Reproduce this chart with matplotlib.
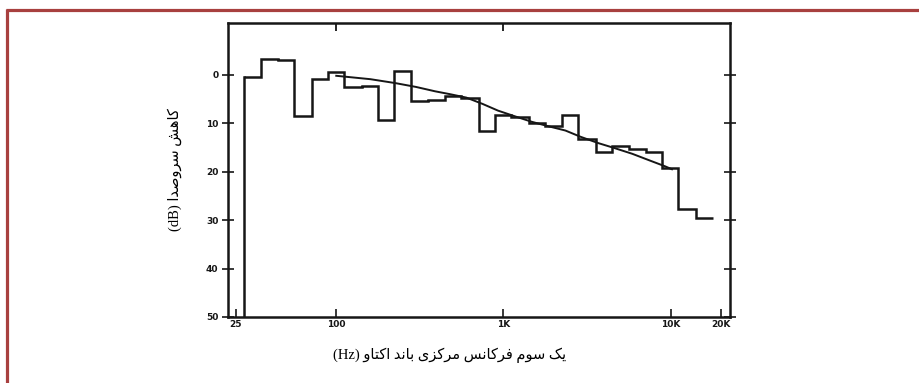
import matplotlib
matplotlib.use('Agg')
import matplotlib.pyplot as plt
from matplotlib.lines import Line2D
from matplotlib.ticker import NullLocator, FixedLocator, FixedFormatter

# Mittenfrequenzen der Terzbänder (Hz) und gemessene Pegel (dB)
band_centres = [31.5, 40, 50, 63, 80, 100, 125, 160, 200, 250, 315, 400, 500, 630,
                800, 1000, 1250, 1600, 2000, 2500, 3150, 4000, 5000, 6300, 8000,
                10000, 12500, 16000]
band_levels = [0.35, -3.3, -3.1, 8.4, 0.8, -0.5, 2.6, 2.4, 9.3, -0.7, 5.4, 5.1, 4.3, 4.8,
               11.5, 8.2, 8.7, 9.9, 10.6, 8.2, 13.2, 16.0, 14.6, 15.3, 16.0,
               19.2, 27.8, 29.5]

# glatte Kurve
curve_freq = [100, 160, 225, 300, 390, 480, 600, 750, 930, 1180, 1480, 1850, 2350,
              2900, 3700, 4600, 5900, 7400, 9300, 10200]
curve_db = [0.2, 0.9, 1.7, 2.5, 3.4, 4.0, 4.7, 6.0, 7.4, 8.6, 9.7, 10.6, 11.5,
            12.8, 14.1, 15.1, 16.3, 17.6, 18.9, 19.5]

x_ticks = [25, 100, 1000, 10000, 20000]
x_labels = ['25', '100', '1K', '10K', '20K']
y_ticks = [0, 10, 20, 30, 40, 50]
y_labels = ['0', '10', '20', '30', '40', '50']

xlabel_fa = 'یک سوم فرکانس مرکزی باند اکتاو'
ylabel_fa = 'کاهش سروصدا'

# Persische Buchstabenformen (isoliert, final, initial, medial)
forms = {
    'ا': ('\uFE8D', '\uFE8E', None, None),
    'ب': ('\uFE8F', '\uFE90', '\uFE91', '\uFE92'),
    'ت': ('\uFE95', '\uFE96', '\uFE97', '\uFE98'),
    'د': ('\uFEA9', '\uFEAA', None, None),
    'ر': ('\uFEAD', '\uFEAE', None, None),
    'ز': ('\uFEAF', '\uFEB0', None, None),
    'س': ('\uFEB1', '\uFEB2', '\uFEB3', '\uFEB4'),
    'ش': ('\uFEB5', '\uFEB6', '\uFEB7', '\uFEB8'),
    'ص': ('\uFEB9', '\uFEBA', '\uFEBB', '\uFEBC'),
    'ف': ('\uFED1', '\uFED2', '\uFED3', '\uFED4'),
    'م': ('\uFEE1', '\uFEE2', '\uFEE3', '\uFEE4'),
    'ن': ('\uFEE5', '\uFEE6', '\uFEE7', '\uFEE8'),
    'ه': ('\uFEE9', '\uFEEA', '\uFEEB', '\uFEEC'),
    'و': ('\uFEED', '\uFEEE', None, None),
    '\u06A9': ('\uFB8E', '\uFB8F', '\uFB90', '\uFB91'),
    '\u06CC': ('\uFBFC', '\uFBFD', '\uFBFE', '\uFBFF'),
}


def shape(txt):
    # matplotlib kann kein Arabisch/Persisch verbinden -> von Hand
    txt = txt.replace('\u064A', '\u06CC').replace('\u0643', '\u06A9')
    out = []
    for i, ch in enumerate(txt):
        if ch not in forms:
            out.append(ch)
            continue
        prev = txt[i - 1] if i > 0 else ''
        nxt = txt[i + 1] if i + 1 < len(txt) else ''
        jp = prev in forms and forms[prev][2] is not None
        jn = nxt in forms and forms[ch][2] is not None
        iso, fin, ini, med = forms[ch]
        if jp and jn:
            out.append(med)
        elif jp:
            out.append(fin)
        elif jn:
            out.append(ini)
        else:
            out.append(iso)
    return ''.join(reversed(out))


fig = plt.figure(figsize=(9.19, 3.83), dpi=100)
ax = fig.add_axes([228 / 919, 66 / 383, 502 / 919, 294 / 383])

ink = '#161616'
edges = [c * 2 ** (-1 / 6) for c in band_centres] + [band_centres[-1] * 2 ** (1 / 6)]
ax.stairs(band_levels, edges, baseline=None, color=ink, lw=1.8)
ax.plot([edges[0], edges[0]], [50, band_levels[0]], color=ink, lw=1.8)
ax.plot(curve_freq, curve_db, color=ink, lw=1.4)

ax.set_xscale('log')
ax.set_xlim(22.5, 22700)
ax.set_ylim(50, -10.7)

ax.xaxis.set_minor_locator(NullLocator())
ax.xaxis.set_major_locator(FixedLocator(x_ticks))
ax.xaxis.set_major_formatter(FixedFormatter(x_labels))
ax.set_yticks(y_ticks)
ax.set_yticklabels(y_labels)

ax.tick_params(axis='x', direction='in', length=6, width=1.2, pad=2,
               labelsize=6.5, colors=ink)
ax.tick_params(axis='y', direction='inout', length=8, width=1.2, pad=3,
               labelsize=6.5, colors=ink, right=True)
for lab in ax.get_xticklabels() + ax.get_yticklabels():
    lab.set_fontweight('bold')

top = ax.secondary_xaxis('top')
top.set_xticks([100, 1000])
top.xaxis.set_minor_locator(NullLocator())
top.tick_params(direction='in', length=6, width=1.2, labeltop=False)
top.spines['top'].set_visible(False)

for s in ax.spines.values():
    s.set_linewidth(1.8)
    s.set_color(ink)

fig.text(450 / 919, 1 - 355 / 383, '(Hz) ' + shape(xlabel_fa), ha='center', va='center',
         fontsize=10.5, family=['Liberation Serif', 'DejaVu Sans'])
fig.text(175 / 919, 1 - 170 / 383, '(dB) ' + shape(ylabel_fa), ha='center', va='center',
         rotation=90, fontsize=10.5, family=['Liberation Serif', 'DejaVu Sans'])

# roter Rahmen oben und links
red = '#a8403f'
fig.add_artist(Line2D([6 / 919, 1], [1 - 10 / 383, 1 - 10 / 383], color=red, lw=2.3,
                      solid_capstyle='butt'))
fig.add_artist(Line2D([7 / 919, 7 / 919], [0, 1 - 9 / 383], color=red, lw=2.3,
                      solid_capstyle='butt'))

fig.savefig('out.png', dpi=100, facecolor='white')
